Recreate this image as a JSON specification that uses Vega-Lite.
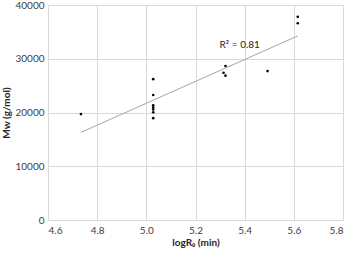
{
  "$schema": "https://vega.github.io/schema/vega-lite/v6.json",
  "width": 295,
  "height": 215,
  "autosize": "none",
  "padding": {"left": 48, "top": 5, "right": 8, "bottom": 34},
  "background": "white",
  "config": {
    "view": {"stroke": "#d9d9d9"},
    "font": "Lato",
    "axis": {
      "gridColor": "#d9d9d9",
      "domainColor": "#d9d9d9",
      "ticks": false,
      "labelFont": "Lato",
      "labelFontSize": 10,
      "labelColor": "#404040",
      "titleFont": "Lato",
      "titleFontSize": 10,
      "titleColor": "#262626"
    }
  },
  "datasets": {
    "pts": [
      {"logR": 4.734, "Mw": 19700},
      {"logR": 5.028, "Mw": 26200},
      {"logR": 5.028, "Mw": 23250},
      {"logR": 5.028, "Mw": 21350},
      {"logR": 5.028, "Mw": 20950},
      {"logR": 5.028, "Mw": 20550},
      {"logR": 5.028, "Mw": 20050},
      {"logR": 5.028, "Mw": 18950},
      {"logR": 5.322, "Mw": 28650},
      {"logR": 5.314, "Mw": 27400},
      {"logR": 5.322, "Mw": 26850},
      {"logR": 5.493, "Mw": 27700},
      {"logR": 5.616, "Mw": 37800},
      {"logR": 5.616, "Mw": 36600}
    ],
    "fit": [
      {"logR": 4.734, "Mw": 16300},
      {"logR": 5.616, "Mw": 34250}
    ],
    "lab": [
      {"logR": 5.38, "Mw": 32500, "t": "R² = 0.81"}
    ]
  },
  "layer": [
    {
      "data": {"name": "fit"},
      "mark": {"type": "line", "color": "#a6a6a6", "strokeWidth": 1},
      "encoding": {
        "x": {"field": "logR", "type": "quantitative", "scale": {"domain": [4.6, 5.8], "nice": false, "zero": false},
              "axis": {"values": [4.6, 4.8, 5.0, 5.2, 5.4, 5.6, 5.8], "format": ".1f", "title": "logR₀ (min)", "titleFontWeight": "bold", "labelPadding": 5, "titlePadding": 2}},
        "y": {"field": "Mw", "type": "quantitative", "scale": {"domain": [0, 40000], "nice": false},
              "axis": {"values": [0, 10000, 20000, 30000, 40000], "format": "d", "title": "Mw (g/mol)", "titleFontWeight": "bold", "labelPadding": 4, "titlePadding": 3}}
      }
    },
    {
      "data": {"name": "pts"},
      "mark": {"type": "point", "filled": true, "color": "black", "size": 7, "opacity": 1},
      "encoding": {
        "x": {"field": "logR", "type": "quantitative"},
        "y": {"field": "Mw", "type": "quantitative"}
      }
    },
    {
      "data": {"name": "lab"},
      "mark": {"type": "text", "fontSize": 10, "font": "Lato", "color": "#262626"},
      "encoding": {
        "x": {"field": "logR", "type": "quantitative"},
        "y": {"field": "Mw", "type": "quantitative"},
        "text": {"field": "t"}
      }
    }
  ]
}
